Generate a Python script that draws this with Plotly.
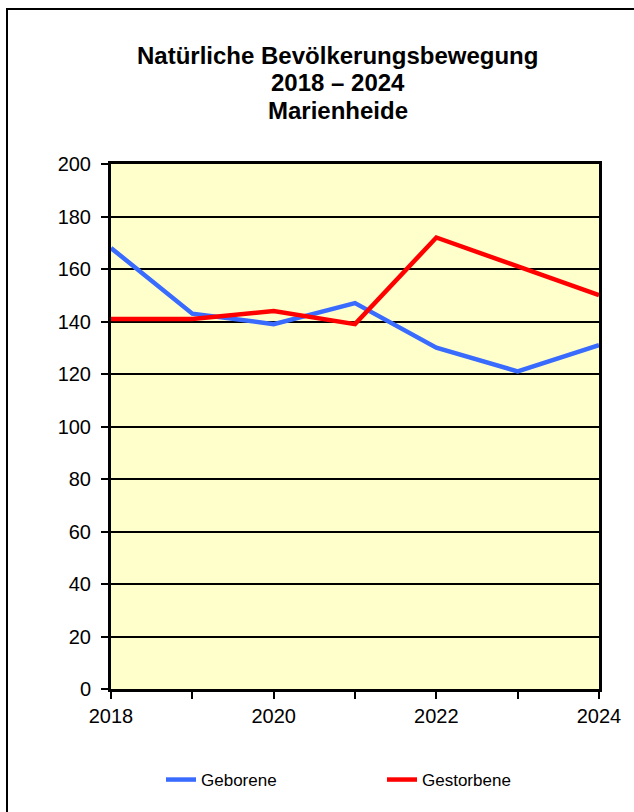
import plotly.graph_objects as go

years = [2018, 2019, 2020, 2021, 2022, 2023, 2024]
geborene = [168, 143, 139, 147, 130, 121, 131]
gestorbene = [141, 141, 144, 139, 172, 161, 150]
x_tick_labels = ["2018", "", "2020", "", "2022", "", "2024"]
title_lines = ["Natürliche Bevölkerungsbewegung", "2018 – 2024", "Marienheide"]

FONT = "Liberation Sans, Arial, sans-serif"

fig = go.Figure()
fig.add_trace(go.Scatter(x=years, y=geborene, mode="lines", name="Geborene",
                         line=dict(color="#3A6BFF", width=4.5)))
fig.add_trace(go.Scatter(x=years, y=gestorbene, mode="lines", name="Gestorbene",
                         line=dict(color="#FF0000", width=4.5)))

L, R, T, B = 111, 599, 164, 689
W, H = 634, 812
pw, ph = R - L, B - T

def px(x):
    return (x - L) / pw

def py(y):
    return (B - y) / ph

title_y = [55.5, 83, 110]
annotations = [dict(text="<b>" + t + "</b>", xref="paper", yref="paper",
                    x=px(337.5), y=py(yy), xanchor="center", yanchor="middle",
                    showarrow=False, font=dict(size=24, family=FONT, color="black"))
               for t, yy in zip(title_lines, title_y)]

fig.update_layout(
    width=W, height=H,
    margin=dict(l=L, r=W - R, t=T, b=H - B, autoexpand=False),
    paper_bgcolor="white",
    plot_bgcolor="#FFFFCC",
    font=dict(family=FONT, color="black"),
    showlegend=True,
    legend=dict(orientation="h", x=px(161), xanchor="left", y=py(780), yanchor="middle",
                font=dict(size=17, family=FONT), entrywidth=176, entrywidthmode="pixels",
                itemwidth=30, bgcolor="rgba(0,0,0,0)", traceorder="normal", borderwidth=0),
    xaxis=dict(range=[2018, 2024], tickvals=years, ticktext=x_tick_labels,
               ticks="outside", ticklen=7, tickwidth=2, tickcolor="black",
               showline=True, linecolor="black", linewidth=3, mirror=True,
               showgrid=False, zeroline=False, tickfont=dict(size=20, family=FONT)),
    yaxis=dict(range=[0, 200], dtick=20, tick0=0,
               ticks="outside", ticklen=7, tickwidth=2, tickcolor="black",
               showline=True, linecolor="black", linewidth=3, mirror=True,
               showgrid=True, gridcolor="black", gridwidth=2, zeroline=False,
               ticklabelstandoff=6, tickfont=dict(size=20, family=FONT)),
    annotations=annotations,
    shapes=[dict(type="rect", xref="paper", yref="paper",
                 x0=px(7), x1=px(660), y0=py(840), y1=py(9),
                 line=dict(color="black", width=2), fillcolor="rgba(0,0,0,0)", layer="below")],
)

fig.write_html("out.html", config={"displayModeBar": False},
               post_script="document.body.style.margin='0';document.body.style.overflow='hidden';")
